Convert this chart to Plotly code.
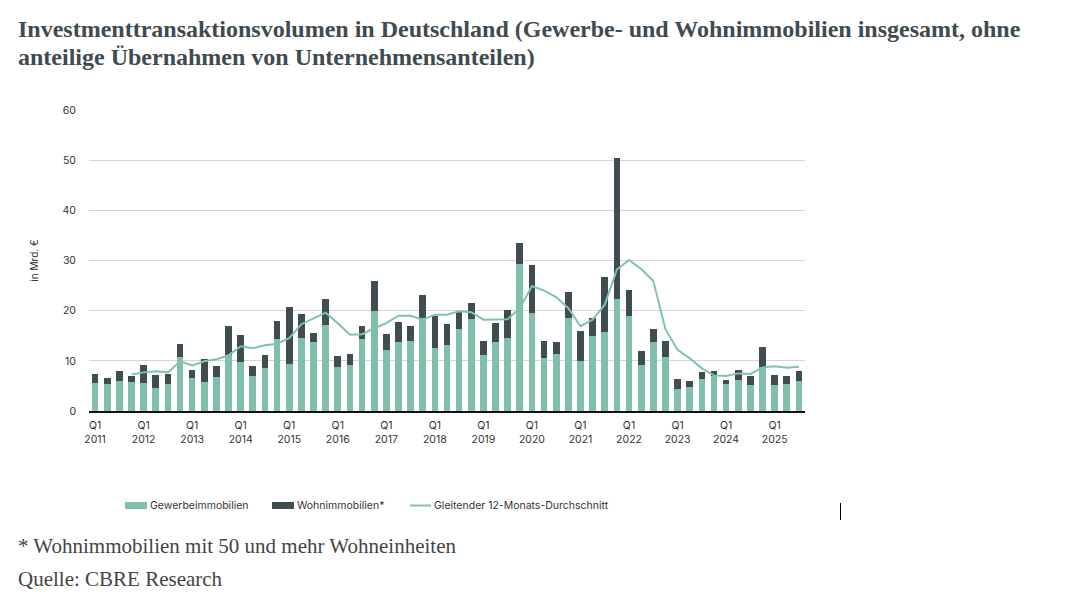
import plotly.graph_objects as go

years = list(range(2011, 2026))
quarters = [f"Q{q} {y}" for y in years for q in range(1, 5)][:59]

gewerbe = [5.5, 5.3, 6.0, 5.7, 5.5, 4.5, 5.3, 10.8, 6.5, 5.7, 6.7, 11.2,
           9.8, 6.9, 8.6, 14.4, 9.4, 14.6, 13.7, 17.2, 8.8, 9.1, 14.3, 20.0,
           12.1, 13.7, 13.9, 18.5, 12.5, 13.2, 16.4, 18.3, 11.2, 13.7, 14.5, 29.3,
           19.5, 10.6, 11.4, 18.5, 10.0, 14.9, 15.7, 22.4, 19.0, 9.2, 13.7, 10.7,
           4.3, 4.8, 6.3, 7.0, 5.4, 6.1, 5.1, 8.7, 5.1, 5.3, 5.9]
total = [7.3, 6.5, 7.9, 6.9, 9.1, 7.2, 7.3, 13.3, 8.1, 10.3, 8.9, 17.0,
         15.1, 8.9, 11.1, 18.0, 20.8, 19.4, 15.5, 22.3, 11.0, 11.4, 17.0, 25.9,
         15.4, 17.7, 17.0, 23.2, 18.9, 17.3, 19.9, 21.5, 14.0, 17.5, 20.1, 33.5,
         29.1, 13.9, 13.7, 23.7, 15.9, 18.5, 26.8, 50.5, 24.1, 11.9, 16.4, 13.9,
         6.3, 5.9, 7.8, 7.9, 6.2, 8.1, 7.0, 12.7, 7.2, 7.0, 8.0]
wohnen = [round(t - g, 2) for t, g in zip(total, gewerbe)]
durchschnitt = [None, None, None, 7.3, 7.7, 7.9, 7.7, 9.9, 9.1, 9.9, 10.3, 11.1,
                12.9, 12.5, 13.1, 13.4, 14.5, 17.3, 18.5, 19.6, 17.5, 15.2, 15.3, 16.5,
                17.5, 19.0, 19.0, 18.2, 19.2, 19.2, 19.9, 19.7, 18.2, 18.2, 18.3, 20.5,
                24.9, 24.0, 22.7, 20.5, 16.9, 18.2, 21.2, 28.2, 30.1, 28.3, 25.9, 16.3,
                12.2, 10.5, 8.5, 7.1, 7.0, 7.5, 7.4, 8.7, 8.9, 8.6, 8.8]
tick_labels = [f"Q1<br>{y}" for y in years]
tick_pos = [quarters[i] for i in range(0, 59, 4)]
title_lines = ["Investmenttransaktionsvolumen in Deutschland (Gewerbe- und Wohnimmobilien insgesamt, ohne",
               "anteilige Übernahmen von Unternehmensanteilen)"]

GREEN = "#80bead"
DARK = "#3f4d50"
LINE = "#80c2ae"
TICKFONT = dict(family="Inter, Roboto, sans-serif", size=10.5, color="#333333")

fig = go.Figure()
fig.add_trace(go.Bar(x=quarters, y=gewerbe, name="Gewerbeimmobilien",
                     marker=dict(color=GREEN, line=dict(width=0))))
fig.add_trace(go.Bar(x=quarters, y=wohnen, name="Wohnimmobilien*",
                     marker=dict(color=DARK, line=dict(width=0))))
fig.add_trace(go.Scatter(x=quarters, y=durchschnitt, mode="lines",
                         name="Gleitender 12-Monats-Durchschnitt",
                         line=dict(color=LINE, width=2), connectgaps=False))

fig.update_layout(
    barmode="stack", bargap=0.45, showlegend=False,
    width=1066, height=606,
    margin=dict(l=89, r=261, t=110, b=195),
    paper_bgcolor="white", plot_bgcolor="white",
    xaxis=dict(type="category", range=[-0.5, 58.5], tickvals=tick_pos,
               ticktext=tick_labels, tickangle=0, tickfont=TICKFONT,
               showgrid=False, showline=True, linecolor="#111111", linewidth=1.5,
               ticks="", ticklabelstandoff=4),
    yaxis=dict(range=[0, 60], dtick=10, showgrid=True, gridcolor="#d4d4d4",
               gridwidth=1, zeroline=False, tickfont=TICKFONT, ticks="",
               ticklabelstandoff=12,
               title=dict(text="in Mrd. €", font=dict(family="Inter, Roboto, sans-serif",
                                                      size=10, color="#333333"),
                          standoff=22)),
    font=dict(family="Inter, Roboto, sans-serif"),
)

def px(pix):
    return (pix - 89) / 716

def py(pix):
    return (411 - pix) / 301

title_font = dict(family="Liberation Serif, Times New Roman, serif", size=24, color="#3e4b50")
for line_text, yc in zip(title_lines, [29, 57]):
    fig.add_annotation(xref="paper", yref="paper", x=px(16), y=py(yc),
                       xanchor="left", yanchor="middle", showarrow=False,
                       text=f"<b>{line_text}</b>", font=title_font)

foot_font = dict(family="Liberation Serif, Times New Roman, serif", size=21, color="#444444")
fig.add_annotation(xref="paper", yref="paper", x=px(16), y=py(546),
                   xanchor="left", yanchor="middle", showarrow=False,
                   text="* Wohnimmobilien mit 50 und mehr Wohneinheiten", font=foot_font)
fig.add_annotation(xref="paper", yref="paper", x=px(16), y=py(579),
                   xanchor="left", yanchor="middle", showarrow=False,
                   text="Quelle: CBRE Research", font=foot_font)

# custom legend
leg_font = dict(family="Inter, Roboto, sans-serif", size=10.5, color="#333333")
legend_items = [("rect", GREEN, 125, 147, "Gewerbeimmobilien"),
                ("rect", DARK, 272, 294, "Wohnimmobilien*"),
                ("line", LINE, 410, 431, "Gleitender 12-Monats-Durchschnitt")]
for kind, col, x0, x1, label in legend_items:
    if kind == "rect":
        fig.add_shape(type="rect", xref="paper", yref="paper", x0=px(x0), x1=px(x1),
                      y0=py(509), y1=py(502), fillcolor=col, line=dict(width=0))
    else:
        fig.add_shape(type="line", xref="paper", yref="paper", x0=px(x0), x1=px(x1),
                      y0=py(505.5), y1=py(505.5), line=dict(color=col, width=2))
    fig.add_annotation(xref="paper", yref="paper", x=px(x1 + 1), y=py(505.5),
                       xanchor="left", yanchor="middle", showarrow=False,
                       text=label, font=leg_font)

# stray cursor mark
fig.add_shape(type="line", xref="paper", yref="paper", x0=px(840.5), x1=px(840.5),
              y0=py(503), y1=py(520), line=dict(color="#000000", width=1))

fig.write_html("out.html")
